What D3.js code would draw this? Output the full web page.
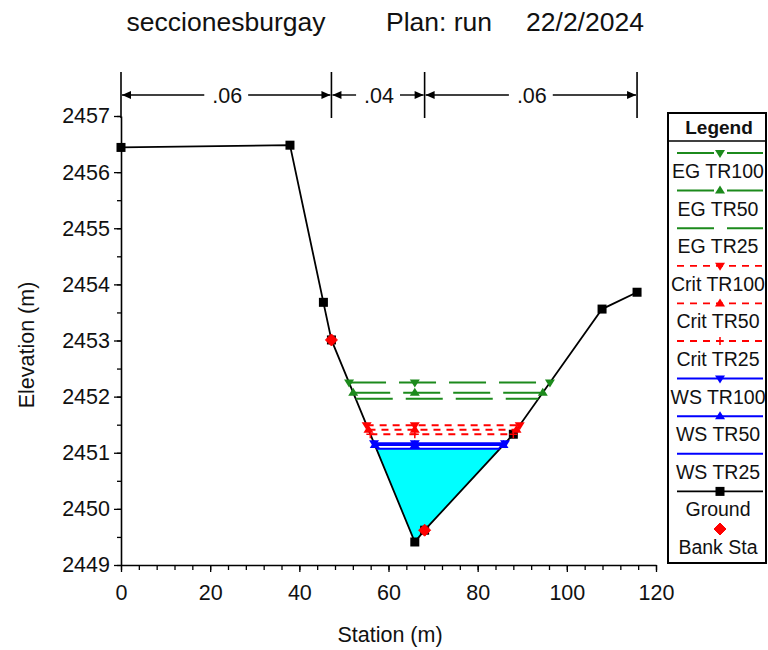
<!DOCTYPE html>
<html>
<head>
<meta charset="utf-8">
<script src="https://cdn.jsdelivr.net/npm/d3@7"></script>
<style>
  html, body { margin: 0; padding: 0; background: #fff; }
  svg { display: block; font-family: "Liberation Sans", Arial, sans-serif; }
</style>
</head>
<body>
<svg id="chart" width="768" height="650"></svg>
<script>
// Cross-section geometry (station m, elevation m)
const groundSta  = [0, 37.9, 45.4, 47.2, 65.9, 68.1, 88.0, 107.9, 115.75];
const groundElev = [2456.44, 2456.48, 2453.68, 2453.01, 2449.41, 2449.62, 2451.33, 2453.56, 2453.86];
const bankSta = [47.2, 68.1];

// Manning's n regions
const manningSta = [0, 47.2, 68.1, 115.75];
const manningN = [".06", ".04", ".06"];

// Profile results
const profileNames = ["TR100", "TR50", "TR25"];
const egElev   = [2452.25, 2452.07, 2451.96];
const critElev = [2451.49, 2451.41, 2451.33];
const wsElev   = [2451.17, 2451.14, 2451.07];

// Axes
const xTicks = [0, 20, 40, 60, 80, 100, 120];
const yTicks = [2449, 2450, 2451, 2452, 2453, 2454, 2455, 2456, 2457];

const title = ["seccionesburgay", "Plan: run", "22/2/2024"];

const svg = d3.select("#chart");
const x = d3.scaleLinear().domain([0, 120]).range([121, 656]);
const y = d3.scaleLinear().domain([2449, 2457]).range([565, 116]);

const ground = groundSta.map((s, i) => [s, groundElev[i]]);

// Where a level surface meets the ground on each side of the thalweg
function crossings(elev) {
  let lo = 0;
  ground.forEach((p, i) => { if (p[1] < ground[lo][1]) lo = i; });
  let i = lo;
  while (i > 0 && ground[i - 1][1] < elev) i--;
  const a = ground[i - 1], b = ground[i];
  const left = [a[0] + (elev - a[1]) / (b[1] - a[1]) * (b[0] - a[0]), elev];
  let j = lo;
  while (j < ground.length - 1 && ground[j + 1][1] < elev) j++;
  const c = ground[j], d = ground[j + 1];
  const right = [c[0] + (elev - c[1]) / (d[1] - c[1]) * (d[0] - c[0]), elev];
  return { left, right, lo: i, hi: j, thalweg: ground[lo][0] };
}

const GREEN = "#1c8a1c", RED = "#ff0000", BLUE = "#0000ff";

// Title
const titleX = [226, 439, 585];
svg.append("g").selectAll("text").data(title).join("text")
  .attr("x", (d, i) => titleX[i]).attr("y", 31)
  .attr("text-anchor", "middle")
  .attr("font-size", 26.5).attr("fill", "#111")
  .text(d => d);

// Water area under the lowest water surface
const wsFill = wsElev[2];
const cf = crossings(wsFill);
const fillPts = [cf.left].concat(ground.slice(cf.lo, cf.hi + 1)).concat([cf.right]);
svg.append("path")
  .attr("d", d3.line().x(d => x(d[0])).y(d => y(d[1]))(fillPts) + "Z")
  .attr("fill", "#00ffff").attr("stroke", "none");

// Axes
svg.append("g").attr("transform", `translate(0,${y(2449)})`)
  .call(d3.axisBottom(x).tickValues(xTicks).tickSize(7).tickPadding(13).tickSizeOuter(0));
svg.append("g").attr("transform", `translate(0,${y(2449)})`)
  .call(d3.axisBottom(x).tickValues(d3.range(0, 121, 4)).tickSize(5).tickFormat("").tickSizeOuter(0))
  .select(".domain").remove();
svg.append("g").attr("transform", `translate(${x(0)},0)`)
  .call(d3.axisLeft(y).tickValues(yTicks).tickSize(7).tickPadding(4).tickFormat(d3.format("d")).tickSizeOuter(0));
svg.append("g").attr("transform", `translate(${x(0)},0)`)
  .call(d3.axisLeft(y).tickValues(d3.range(2449, 2457.01, 0.5)).tickSize(4).tickFormat("").tickSizeOuter(0))
  .select(".domain").remove();
svg.selectAll(".domain").attr("stroke", "#000").attr("stroke-width", 1.6);
svg.selectAll(".tick line").attr("stroke", "#000").attr("stroke-width", 1.3);
svg.selectAll(".tick text").attr("font-size", 21.5).attr("fill", "#111")
  .attr("font-family", "Liberation Sans, Arial, sans-serif");

// Axis titles
svg.append("text").attr("x", 390).attr("y", 642).attr("text-anchor", "middle")
  .attr("font-size", 21.5).attr("fill", "#111").text("Station (m)");
svg.append("text").attr("transform", `translate(34,345) rotate(-90)`).attr("text-anchor", "middle")
  .attr("font-size", 21.5).attr("fill", "#111").text("Elevation (m)");

// Manning's n bar
const nY = 95, nTop = 72, nBot = 118;
const mbar = svg.append("g");
mbar.selectAll("line.v").data(manningSta).join("line")
  .attr("x1", d => x(d)).attr("x2", d => x(d)).attr("y1", nTop).attr("y2", nBot)
  .attr("stroke", "#000").attr("stroke-width", 1.6);
manningN.forEach((n, i) => {
  const x0 = x(manningSta[i]) + 1, x1 = x(manningSta[i + 1]) - 1, xm = (x0 + x1) / 2;
  const t = mbar.append("text").attr("x", xm + 1).attr("y", nY + 7.5).attr("text-anchor", "middle")
    .attr("font-size", 21.5).attr("fill", "#111").text(n);
  const half = t.node().getComputedTextLength() / 2 + 7;
  mbar.append("line").attr("x1", x0).attr("x2", xm - half).attr("y1", nY).attr("y2", nY)
    .attr("stroke", "#000").attr("stroke-width", 1.4);
  mbar.append("line").attr("x1", xm + half).attr("x2", x1).attr("y1", nY).attr("y2", nY)
    .attr("stroke", "#000").attr("stroke-width", 1.4);
  mbar.append("path").attr("d", `M${x0},${nY}L${x0 + 9},${nY - 4}L${x0 + 9},${nY + 4}Z`).attr("fill", "#000");
  mbar.append("path").attr("d", `M${x1},${nY}L${x1 - 9},${nY - 4}L${x1 - 9},${nY + 4}Z`).attr("fill", "#000");
});

// Marker shapes
function marker(g, kind, cx, cy, color) {
  if (kind === "down") {
    g.append("path").attr("d", `M${cx - 5},${cy - 3}L${cx + 5},${cy - 3}L${cx},${cy + 5}Z`).attr("fill", color);
  } else if (kind === "up") {
    g.append("path").attr("d", `M${cx - 5},${cy + 3}L${cx + 5},${cy + 3}L${cx},${cy - 5}Z`).attr("fill", color);
  } else if (kind === "plus") {
    g.append("path").attr("d", `M${cx - 4},${cy}H${cx + 4}M${cx},${cy - 4}V${cy + 4}`)
      .attr("stroke", color).attr("stroke-width", 1.5);
  } else if (kind === "square") {
    g.append("rect").attr("x", cx - 4.5).attr("y", cy - 4.5).attr("width", 9).attr("height", 9).attr("fill", "#000");
  } else if (kind === "diamond") {
    g.append("path").attr("d", `M${cx},${cy - 6}L${cx + 6},${cy}L${cx},${cy + 6}L${cx - 6},${cy}Z`)
      .attr("fill", RED).attr("stroke", RED).attr("stroke-width", 1).attr("stroke-linejoin", "round");
  }
}
const kinds = ["down", "up", null];
const critKinds = ["down", "up", "plus"];

const groups = [
  { elev: wsElev, color: BLUE, dash: null, width: 2, kinds: kinds },
  { elev: critElev, color: RED, dash: "7,6", width: 1.8, kinds: critKinds },
  { elev: egElev, color: GREEN, dash: "37,13", width: 2, kinds: kinds }
];

// Ground line
const gLine = svg.append("g");
gLine.append("path")
  .attr("d", d3.line().x(d => x(d[0])).y(d => y(d[1]))(ground))
  .attr("fill", "none").attr("stroke", "#000").attr("stroke-width", 1.8);

// Profile lines
const prof = svg.append("g");
groups.forEach(gr => {
  gr.elev.forEach(e => {
    const c = crossings(e);
    prof.append("line").attr("x1", x(c.left[0])).attr("x2", x(c.right[0]))
      .attr("y1", y(e)).attr("y2", y(e))
      .attr("stroke", gr.color).attr("stroke-width", gr.width)
      .attr("stroke-dasharray", gr.dash);
  });
});
groups.forEach(gr => {
  gr.elev.forEach((e, k) => {
    if (!gr.kinds[k]) return;
    const c = crossings(e);
    [c.left[0], c.thalweg, c.right[0]].forEach(s => marker(prof, gr.kinds[k], x(s), y(e), gr.color));
  });
});

// Ground points and bank stations
ground.forEach(p => marker(gLine, "square", x(p[0]), y(p[1])));
const bankPts = bankSta.map(s => ground.find(p => p[0] === s));
const bankG = svg.append("g");
bankPts.forEach(p => marker(bankG, "diamond", x(p[0]), y(p[1])));

// Legend
const lg = svg.append("g");
lg.append("rect").attr("x", 668).attr("y", 113).attr("width", 98).attr("height", 450)
  .attr("fill", "#fff").attr("stroke", "#000").attr("stroke-width", 2);
lg.append("line").attr("x1", 668).attr("x2", 766).attr("y1", 141).attr("y2", 141)
  .attr("stroke", "#000").attr("stroke-width", 1.5);
lg.append("text").attr("x", 719).attr("y", 134).attr("text-anchor", "middle")
  .attr("font-size", 19).attr("font-weight", "bold").attr("fill", "#111").text("Legend");

const legendItems = [];
profileNames.forEach((n, k) => legendItems.push({ label: "EG " + n, color: GREEN, dash: "37,13", kind: kinds[k], w: 2 }));
profileNames.forEach((n, k) => legendItems.push({ label: "Crit " + n, color: RED, dash: "7,6", kind: critKinds[k], w: 1.8 }));
profileNames.forEach((n, k) => legendItems.push({ label: "WS " + n, color: BLUE, dash: null, kind: kinds[k], w: 2 }));
legendItems.push({ label: "Ground", color: "#000", dash: null, kind: "square", w: 1.6 });
legendItems.push({ label: "Bank Sta", color: null, dash: null, kind: "diamond", w: 0 });

legendItems.forEach((it, i) => {
  const ly = 153 + i * 37.6;
  if (it.color) {
    lg.append("line").attr("x1", 677).attr("x2", 763).attr("y1", ly).attr("y2", ly)
      .attr("stroke", it.color).attr("stroke-width", it.w).attr("stroke-dasharray", it.dash);
  }
  if (it.kind) marker(lg, it.kind, 720, ly, it.color || RED);
  lg.append("text").attr("x", 718).attr("y", ly + 25).attr("text-anchor", "middle")
    .attr("font-size", 19.5).attr("fill", "#111").text(it.label);
});
</script>
</body>
</html>
